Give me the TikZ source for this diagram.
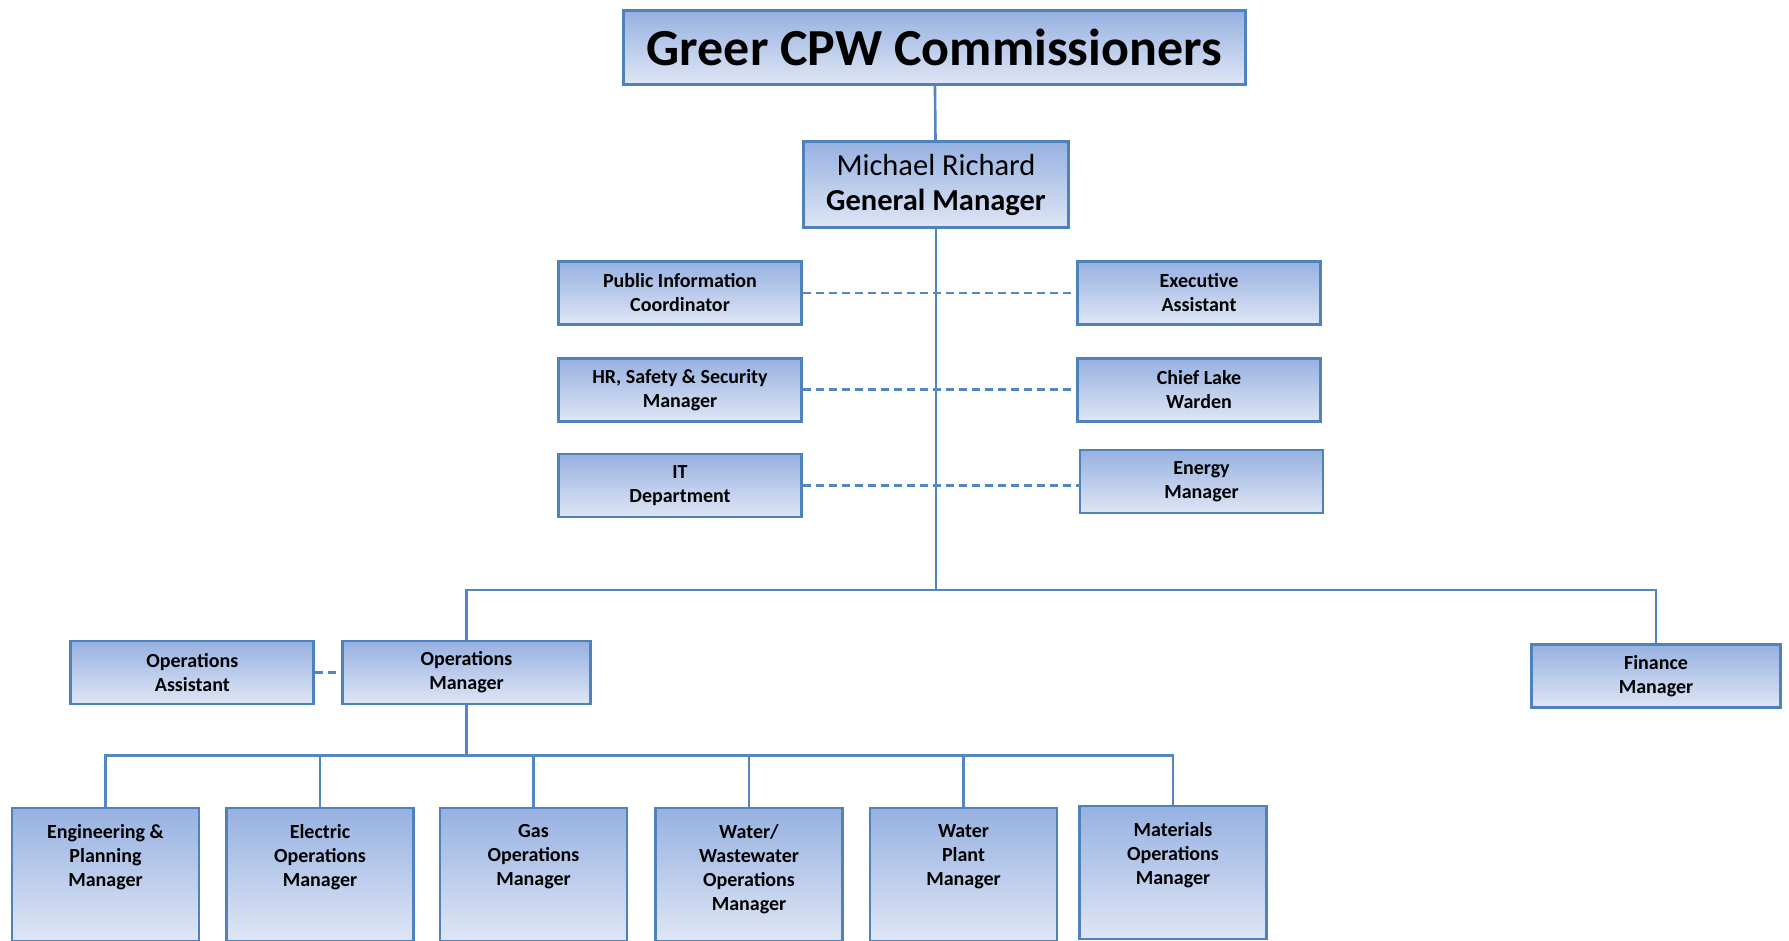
\documentclass[tikz,border=0pt]{standalone}
\usepackage{fontspec}
\setmainfont{Carlito}
\usetikzlibrary{positioning}
\definecolor{boxline}{RGB}{79,129,189}
\definecolor{linkline}{RGB}{84,134,196}
\definecolor{shadetop}{RGB}{150,177,225}
\definecolor{shadebot}{RGB}{223,230,245}
\newcommand{\toptext}[1]{\parbox[t][100pt][t]{180pt}{\centering #1}}
\tikzset{%
unit/.style={draw=boxline,line width=2.7pt,rectangle,top color=shadetop,bottom color=shadebot,inner sep=2pt,font=\fontsize{20}{24}\selectfont\bfseries},
board/.style={unit,minimum width=622,minimum height=74,font=\fontsize{52}{60}\selectfont\bfseries},
gmbox/.style={unit,align=center,minimum width=265,minimum height=86,font=\fontsize{30.5}{35}\selectfont\bfseries},
staff/.style={unit,align=center,minimum width=243,minimum height=63},
dept/.style={unit,minimum width=187,minimum height=133},
link/.style={draw=linkline,line width=2.6pt},
dotlink/.style={link,dash pattern=on 8pt off 5pt}
}
\begin{document}
\begin{tikzpicture}[x=1pt,y=-1pt]
    \useasboundingbox (0,0) rectangle (1789,941);
    \clip (0,0) rectangle (1789,941);

    \node[board] (board) at (934.5,47.5) {Greer CPW Commissioners};
    \node[gmbox] (gm) at (936,184.5) {{\mdseries Michael Richard}\\General Manager};

    % staff beside the general manager
    \node[staff] (pic) at (680,293) {Public Information\\Coordinator};
    \node[staff] (hr) [below=31pt of pic] {HR, Safety \& Security\\Manager};
    \node[staff] (it) [below=30pt of hr] {IT\\Department};
    \node[staff] (exec) at (1199,293) {Executive\\Assistant};
    \node[staff] (warden) [below=31pt of exec] {Chief Lake\\Warden};
    \node[staff] (energy) at (1201.5,481.5) {Energy\\Manager};

    \node[staff,minimum width=248] (opsm) at (466.5,672.5) {Operations\\Manager};
    \node[staff] (opsa) [left=26pt of opsm] {Operations\\Assistant};
    \node[staff,minimum width=249] (fin) at (1656,676) {Finance\\Manager};

    \node[dept] (eng) at (105.5,874.5) {\toptext{Engineering \&\\Planning\\Manager}};
    \node[dept] (elec) at (320,874.5) {\toptext{Electric\\Operations\\Manager}};
    \node[dept] (gas) at (533.5,874.5) {\toptext{Gas\\Operations\\Manager}};
    \node[dept] (www) at (749,874.5) {\toptext{Water/\\Wastewater\\Operations\\Manager}};
    \node[dept] (plant) at (963.5,874.5) {\toptext{Water\\Plant\\Manager}};
    \node[dept] (mat) at (1173,872.5) {\toptext{Materials\\Operations\\Manager}};

    \path[link] (board) edge (gm);
    \draw[link] (gm.south) -- ++(0,361) coordinate (hub);
    \draw[link] (opsm.north) |- (hub) -| (fin.north);

    \path[dotlink] (pic) edge (exec)
                   (hr) edge (warden)
                   (it.east) edge (it.east -| energy.west)
                   (opsa) edge (opsm);

    \draw[link] (opsm.south) -- ++(0,50) coordinate (split);
    \draw[link] (eng.north) |- (split) -| (mat.north);
    \path[link] (elec.north) edge (elec.north |- split)
                (gas.north) edge (gas.north |- split)
                (www.north) edge (www.north |- split)
                (plant.north) edge (plant.north |- split);
\end{tikzpicture}
\end{document}
